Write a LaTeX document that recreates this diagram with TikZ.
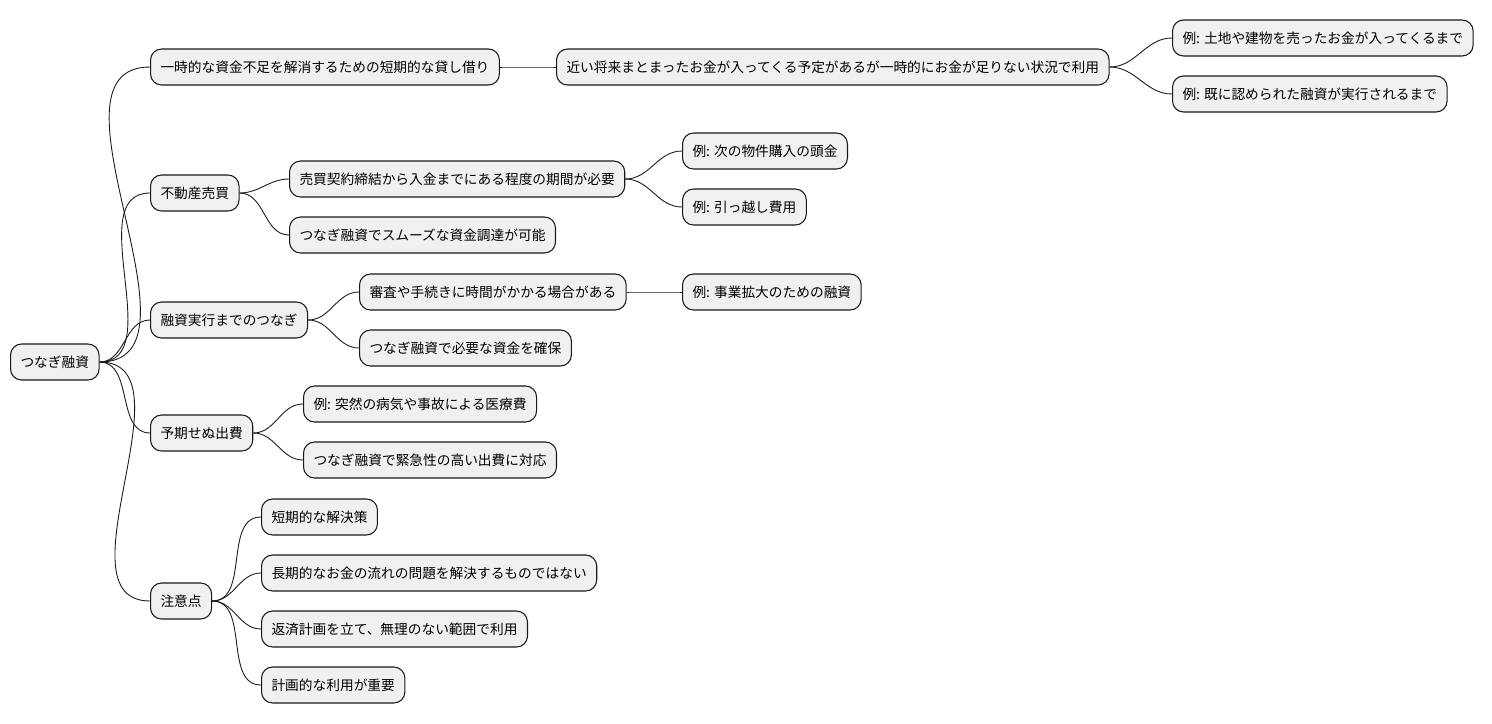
\documentclass[tikz,border=0pt]{standalone}
\usepackage{fontspec}
\newfontfamily\cjk{Noto Sans CJK JP}
\tikzset{
  topic/.style={draw=black!90, fill=black!6, line width=0.6pt, rounded corners=0.22cm,
    minimum height=0.72cm, inner xsep=0.2cm, anchor=west, font=\cjk\fontsize{7.8}{9}\selectfont},
  branch/.style={draw=black!90, line width=0.5pt, out=0, in=180}
}
\begin{document}
\begin{tikzpicture}[x=0.02cm, y=0.02cm]
    \useasboundingbox (0,0) rectangle (1492,-724);
    \node (root) [topic] at (10,-362) {つなぎ融資};

    \node (a) [topic] at (150,-67) {一時的な資金不足を解消するための短期的な貸し借り};
    \node (a1) [topic] at (556,-67) {近い将来まとまったお金が入ってくる予定があるが一時的にお金が足りない状況で利用};
    \node (a11) [topic] at (1172,-38) {例: 土地や建物を売ったお金が入ってくるまで};
    \node (a12) [topic] at (1172,-94) {例: 既に認められた融資が実行されるまで};

    \node (b) [topic] at (150,-193) {不動産売買};
    \node (b1) [topic] at (289,-179) {売買契約締結から入金までにある程度の期間が必要};
    \node (b11) [topic] at (682,-151) {例: 次の物件購入の頭金};
    \node (b12) [topic] at (682,-207) {例: 引っ越し費用};
    \node (b2) [topic] at (289,-235) {つなぎ融資でスムーズな資金調達が可能};

    \node (c) [topic] at (150,-320) {融資実行までのつなぎ};
    \node (c1) [topic] at (359,-292) {審査や手続きに時間がかかる場合がある};
    \node (c11) [topic] at (682,-292) {例: 事業拡大のための融資};
    \node (c2) [topic] at (359,-348) {つなぎ融資で必要な資金を確保};

    \node (d) [topic] at (150,-433) {予期せぬ出費};
    \node (d1) [topic] at (303,-404) {例: 突然の病気や事故による医療費};
    \node (d2) [topic] at (303,-460) {つなぎ融資で緊急性の高い出費に対応};

    \node (e) [topic] at (150,-601) {注意点};
    \node (e1) [topic] at (261,-517) {短期的な解決策};
    \node (e2) [topic] at (261,-573) {長期的なお金の流れの問題を解決するものではない};
    \node (e3) [topic] at (261,-629) {返済計画を立て、無理のない範囲で利用};
    \node (e4) [topic] at (261,-685) {計画的な利用が重要};

    \foreach \p/\c in {root/a, root/b, root/c, root/d, root/e, a/a1, a1/a11, a1/a12,
        b/b1, b/b2, b1/b11, b1/b12, c/c1, c/c2, c1/c11, d/d1, d/d2,
        e/e1, e/e2, e/e3, e/e4}
      \draw[branch] (\p.east) to (\c.west);
\end{tikzpicture}
\end{document}
